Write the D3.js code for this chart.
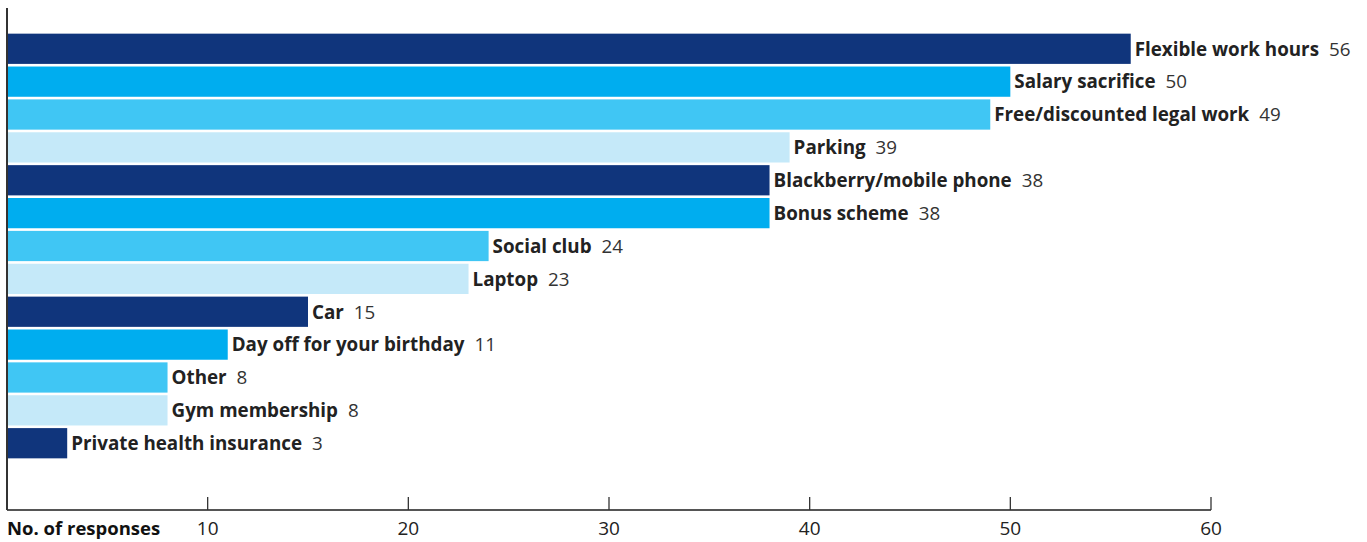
<!DOCTYPE html>
<html>
<head>
<meta charset="utf-8">
<script src="https://d3js.org/d3.v7.min.js"></script>
<style>
  body { margin: 0; background: #fff; }
  text { font-family: "Open Sans", sans-serif; }
</style>
</head>
<body>
<svg id="chart" width="1367" height="542"></svg>
<script>
// benefits, in the order shown
var benefits = ["Flexible work hours", "Salary sacrifice", "Free/discounted legal work", "Parking",
  "Blackberry/mobile phone", "Bonus scheme", "Social club", "Laptop", "Car",
  "Day off for your birthday", "Other", "Gym membership", "Private health insurance"];
var responses = [56, 50, 49, 39, 38, 38, 24, 23, 15, 11, 8, 8, 3];
var tickValues = [10, 20, 30, 40, 50, 60];
var palette = ["#10357c", "#00adef", "#40c6f4", "#c5e9f9"];

var svg = d3.select("#chart");
var x0 = 7, axisY = 510;

var x = d3.scaleLinear().domain([0, 60]).range([x0, 1211]);
var y = d3.scaleBand().domain(benefits).range([33, 459]).paddingInner(0.08).paddingOuter(0.02);

svg.selectAll("rect.bar")
  .data(benefits)
  .enter().append("rect")
  .attr("class", "bar")
  .attr("x", x(0))
  .attr("y", function(d) { return y(d); })
  .attr("width", function(d, i) { return x(responses[i]) - x(0); })
  .attr("height", y.bandwidth())
  .attr("fill", function(d, i) { return palette[i % palette.length]; });

var lab = svg.selectAll("text.lab")
  .data(benefits)
  .enter().append("text")
  .attr("class", "lab")
  .attr("x", function(d, i) { return x(responses[i]) + 4; })
  .attr("y", function(d) { return y(d) + y.bandwidth() / 2; })
  .attr("dy", "0.36em")
  .style("font-size", "18.8px")
  .style("fill", "#222");
lab.append("tspan").style("font-weight", "bold").text(function(d) { return d; });
lab.append("tspan").attr("dx", 10).style("fill", "#333").text(function(d, i) { return responses[i]; });

// bottom axis: ticks pointing up, labels below
var axis = svg.append("g");
axis.append("line")
  .attr("x1", x0).attr("x2", x(60))
  .attr("y1", axisY).attr("y2", axisY)
  .attr("stroke", "#555").attr("stroke-width", 2);
axis.selectAll("line.tick")
  .data(tickValues)
  .enter().append("line")
  .attr("class", "tick")
  .attr("x1", function(d) { return x(d); }).attr("x2", function(d) { return x(d); })
  .attr("y1", axisY - 13).attr("y2", axisY)
  .attr("stroke", "#333").attr("stroke-width", 1.3);
axis.selectAll("text.tl")
  .data(tickValues)
  .enter().append("text")
  .attr("class", "tl")
  .attr("x", function(d) { return x(d); })
  .attr("y", 535)
  .attr("text-anchor", "middle")
  .style("font-size", "19px")
  .style("fill", "#222")
  .text(function(d) { return d; });

svg.append("text")
  .attr("x", x0).attr("y", 535)
  .style("font-size", "18.5px").style("font-weight", "bold").style("fill", "#111")
  .text("No. of responses");

// vertical axis line
svg.append("line")
  .attr("x1", x0).attr("x2", x0)
  .attr("y1", 8).attr("y2", axisY)
  .attr("stroke", "#333").attr("stroke-width", 2);
</script>
</body>
</html>
